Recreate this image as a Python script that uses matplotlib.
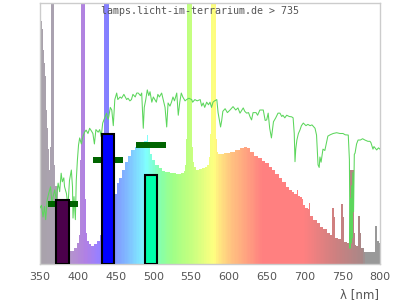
import numpy as np
import matplotlib
matplotlib.use("Agg")
import matplotlib.pyplot as plt
from matplotlib.colors import LinearSegmentedColormap

# lamp spectrum (relative, 0..100 = top of plot)
lamp_nm = [350, 351, 352, 353, 354, 355, 356, 357, 358, 359, 360, 361, 362, 363, 364,
           365, 366, 367, 368, 369, 372, 376, 380, 384, 388, 391, 394, 397, 400, 402,
           403, 404, 405, 406, 407, 408, 409, 410, 411, 413, 416, 420, 424, 428, 431,
           433, 434, 435, 436, 437, 438, 439, 440, 441, 442, 444, 447, 450, 453, 456,
           460, 465, 469, 473, 478, 482, 486, 490, 492, 493, 494, 496, 500, 505, 509,
           514, 518, 526, 533, 540, 542, 543, 544, 545, 546, 547, 548, 549, 550, 551,
           552, 553, 555, 558, 562, 566, 570, 573, 575, 576, 577, 578, 579, 580, 581,
           582, 583, 584, 585, 587, 590, 597, 605, 612, 618, 622, 626, 630, 636, 641,
           646, 650, 655, 659, 664, 668, 673, 677, 681, 685, 688, 691, 693, 696, 698,
           699, 703, 706, 707, 709, 714, 718, 723, 727, 732, 736, 738, 739, 740, 742,
           747, 750, 751, 752, 754, 758, 760, 761, 762, 763, 764, 765, 766, 767, 770,
           771, 773, 774, 776, 781, 787, 793, 794, 796, 797, 800]
lamp_val = [98, 96, 93, 90, 86, 82, 77, 72, 66, 59, 52, 44, 39, 36, 45,
            120, 120, 120, 120, 38, 30, 25, 20, 14, 8, 5, 5, 6, 8, 11,
            16, 40, 120, 120, 120, 120, 120, 25, 12, 9, 7.5, 7, 7.5, 9, 11,
            15, 30, 120, 120, 120, 120, 120, 120, 120, 35, 25, 24, 27, 31, 33,
            36, 39, 41.5, 43.5, 45, 46, 46.5, 47, 49.5, 49.5, 45, 42, 40, 38, 36.8,
            35.8, 35.2, 35, 34.5, 34.9, 35.5, 38, 48, 120, 120, 120, 120, 120, 120, 120,
            45, 39, 37, 36, 36.5, 36.8, 37.2, 38, 41, 50, 120, 120, 120, 120, 120,
            120, 120, 48, 43, 42, 42, 42.5, 43, 43.7, 44.3, 44.8, 44.5, 43, 41.5, 40.6,
            39.5, 38.7, 37.2, 36, 34.5, 33, 31.3, 29.5, 28.4, 27.7, 27, 28.4, 26, 25.5, 25,
            22.6, 21.3, 21, 23.2, 18.5, 16.9, 15.6, 14.3, 13.3, 12, 11.1, 21.3, 21.3, 18, 10.1,
            9.5, 23, 23, 18, 8.5, 7.9, 8, 36, 36, 36, 36, 36, 12, 7.3, 6.8,
            18.4, 18.4, 12, 6, 4.7, 4.5, 4.5, 14.6, 14.6, 9, 8]

# daylight reference curve (green line)
sun_nm = [350, 352, 354, 356, 357.5, 359.5, 361.5, 364, 366, 367, 369.5, 371.5, 374, 376,
          378, 379.5, 381.5, 382.5, 385, 387, 389, 391.5, 393, 393.7, 395, 396.8, 398,
          399.5, 401, 402.5, 404.7, 407, 409, 411, 413.5, 415.7, 418, 420, 422, 424, 427,
          429, 431, 433, 435.6, 438, 440, 441, 443, 445, 447, 449, 451.5, 453, 456, 458,
          461, 464.7, 466.5, 469, 471, 473, 476, 478, 480, 483, 484.6, 486.7, 488, 490,
          492, 494, 495.6, 498, 500, 502, 504, 506, 508, 511, 513, 515.5, 517.7, 519.5,
          522, 524, 526, 528, 531, 533, 535, 537, 539, 542, 544, 547, 550.8, 552, 555,
          558, 562, 564, 566, 568, 570.6, 573, 575, 577, 579, 581, 584, 585.7, 587.5,
          589, 590.5, 592, 595, 598, 601.5, 605.5, 609, 612, 614.7, 619, 621, 623.5, 626,
          628, 630, 632, 636, 638, 641, 645.5, 648, 650, 652, 654, 656.3, 657.5, 659,
          662, 665, 667.6, 670, 671.5, 674, 676.5, 680, 683, 685, 686.5, 687.5, 688.5,
          690, 692, 694, 696, 698.5, 702, 704.5, 707.5, 710, 714, 716, 717, 718, 719.5,
          720.5, 722, 724.5, 727, 729.5, 731, 734, 738, 742.6, 747, 751, 754, 758, 759.5,
          760.3, 761, 761.7, 762.5, 763.3, 764, 765, 766, 767, 769, 771, 774, 777, 780,
          784, 786.7, 788, 790.7, 792, 795.6, 798, 800]
sun_val = [21.5, 22.5, 18, 22, 17, 24.5, 27, 29.6, 22, 25.5, 28.4, 24.5, 31, 27.7,
           34.8, 31.5, 33, 29.6, 27, 22, 32, 36, 29.6, 17.6, 25.8, 17, 32,
           39.8, 45.6, 48.3, 46, 49, 50.5, 51.3, 50, 52, 51, 50, 46, 51.5, 50.5,
           51.5, 48.8, 54, 56, 57.8, 55.5, 56.3, 60, 59, 53, 63, 65.5, 63, 64, 63.5,
           65, 63, 63.5, 62.5, 63, 65, 64, 65.5, 65.5, 64.5, 65.5, 52, 60, 63,
           66.7, 64.5, 66, 62, 64, 63, 62, 65, 64, 65.5, 63, 60, 52.5, 61.7,
           60.5, 62, 64, 62.5, 65.5, 57, 62, 65.5, 64, 62.5, 63, 63.5, 63, 62, 63,
           62.5, 63, 60.5, 61.7, 60, 62, 61, 62, 60, 62, 62.5, 63, 58, 55,
           52.5, 55, 58.5, 59.5, 58, 59, 60.3, 59, 59.8, 57.8, 59.8, 58.5, 57.8, 58,
           56.4, 55.2, 58, 58, 57, 59, 59, 55, 55.2, 57.8, 52, 48.3, 51, 54.5,
           56, 57.8, 57.8, 56.5, 57, 56, 57, 56.5, 56.4, 56, 50, 39.2, 44,
           47.5, 50, 51.3, 53, 54, 53, 53.5, 53, 53.3, 52, 49.4, 44, 38, 37,
           41, 39, 44, 43.5, 46.9, 49, 49.5, 50, 50.3, 50, 50, 49.5, 49.4, 40,
           6, 25, 8, 30, 10, 35, 20, 42, 42.5, 46, 47.5, 47.5, 48, 47.5,
           47, 47, 46.5, 44, 45, 43.7, 44.5, 44]

# band bars and target markers
band_nm = [380, 440, 497]
band_val = [24.5, 50, 34]
band_colors = ["#4b004b", "#0000ff", "#00ffaa"]
target_val = [23, 39.8, 45.5]

# colours of the spectrum fill along the wavelength axis
spec_stops = [(350, "#a9a3ab"), (375, "#aca2b4"), (388, "#b496cc"), (400, "#b48ad8"),
              (410, "#b080e6"), (425, "#9a80ff"), (440, "#8080ff"), (455, "#80a4ff"),
              (470, "#80c8ff"), (490, "#80ffff"), (500, "#80ffd0"), (510, "#88ffa8"),
              (525, "#a0ff88"), (546, "#c0ff80"), (560, "#d8ff80"), (572, "#f0ff80"),
              (580, "#ffff80"), (590, "#ffe080"), (605, "#ffc080"), (625, "#ffa080"),
              (645, "#ff8080"), (700, "#ff8080"), (740, "#d08080"), (779, "#a88888"),
              (782, "#999999"), (800, "#999999")]

spec_cmap = LinearSegmentedColormap.from_list(
    "spec", [((w - 350) / 450, c) for w, c in spec_stops])

fig = plt.figure(figsize=(4, 3), dpi=100)
ax = fig.add_axes([0.1, 0.12, 0.85, 0.87])

fill = ax.fill_between(lamp_nm, 0, lamp_val, step="mid", facecolor="none",
                       edgecolor="none")
grad = np.linspace(350, 800, 451).reshape(1, -1)
im = ax.imshow(grad, extent=[350, 800, 0, 130], aspect="auto", cmap=spec_cmap,
               vmin=350, vmax=800, interpolation="nearest", zorder=1)
im.set_clip_path(fill.get_paths()[0], ax.transData)

ax.plot(sun_nm, sun_val, color="#5cd65c", lw=0.75, zorder=3)

ax.bar(band_nm, [2.3] * 3, bottom=[v - 1.15 for v in target_val], width=40,
       color="#006400", linewidth=0, zorder=4)
ax.bar(band_nm, band_val, width=17, color=band_colors, edgecolor="black",
       linewidth=1.5, zorder=5)

ax.set_xlim(350, 800)
ax.set_ylim(0, 100)
ax.set_xticks(range(350, 801, 50))
ax.set_yticks([])
ax.tick_params(axis="x", length=0, pad=6, labelsize=8, labelcolor="#555555")
for s in ax.spines.values():
    s.set_color("#cccccc")
    s.set_linewidth(1)

fig.text(0.5, 0.963, "lamps.licht-im-terrarium.de > 735", family="DejaVu Sans Mono",
         fontsize=7.2, color="#555555", ha="center", va="center")
fig.text(0.948, 1 - 295 / 300, "λ [nm]", fontsize=8.5, color="#555555",
         ha="right", va="center")

fig.savefig("out.png", dpi=100)
